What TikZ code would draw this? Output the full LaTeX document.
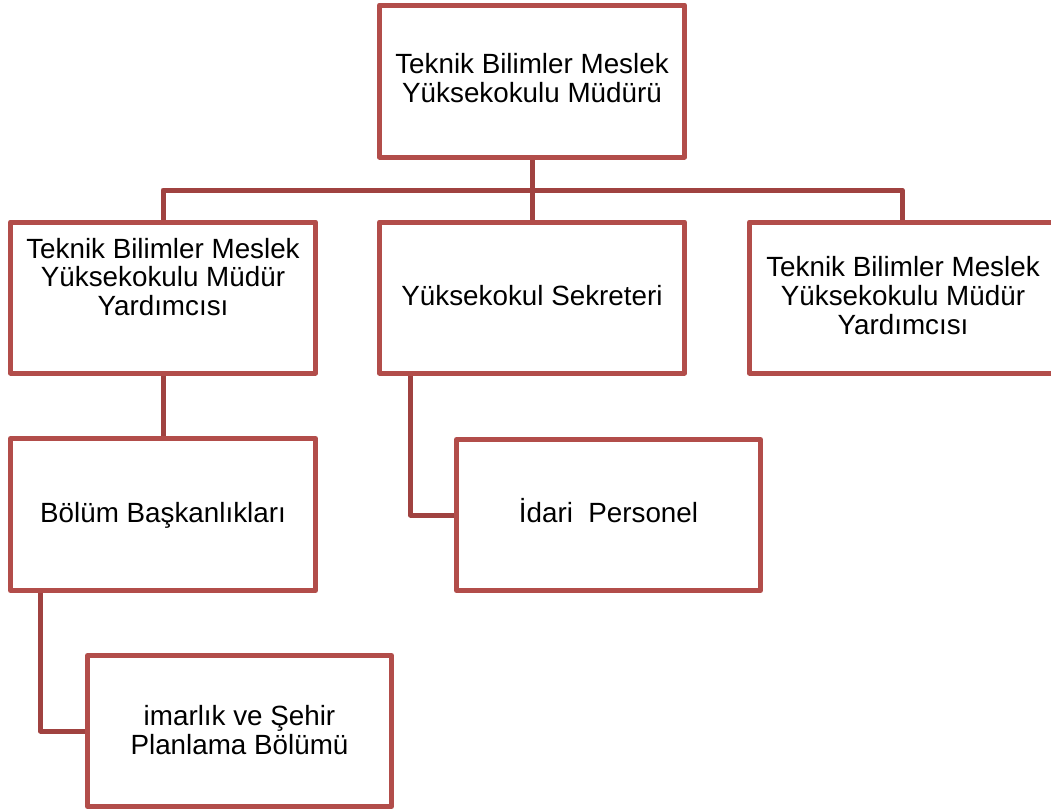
\documentclass[tikz,border=0pt]{standalone}
\usepackage{fontspec}
\setmainfont{Liberation Sans}
\definecolor{boxred}{RGB}{178,77,74}
\definecolor{linered}{RGB}{160,66,64}
\begin{document}
\begin{tikzpicture}[x=1pt,y=-1pt,
  orgbox/.style={draw=boxred,line width=5pt,line join=round,fill=white,rectangle,inner sep=0pt,minimum width=305pt,minimum height=152pt},
  conn/.style={draw=linered,line width=5pt,line join=round},
  lbl/.style={inner sep=0pt,align=center,anchor=base,font=\fontsize{27.8pt}{28.8pt}\selectfont}]
\fill[white] (0,0) rectangle (1051,809);
\useasboundingbox (0,0) rectangle (1051,809);
\begin{scope}
\clip (0,0) rectangle (1051,809);
% boxes (positions)
\path (532,81) coordinate (cT);
\path (163,297.5) coordinate (cL);
\path (532,297.5) coordinate (cM);
\path (902,297.5) coordinate (cR);
\path (163,514.5) coordinate (cB);
\path (608.5,515) coordinate (cI);
\path (239.5,731) coordinate (cP);
\coordinate (busL) at (163,190);
\coordinate (busR) at (902,190);
% connectors
\node[orgbox,draw=none,fill=none] (T0) at (cT) {};
\node[orgbox,draw=none,fill=none,minimum height=151pt] (L0) at (cL) {};
\node[orgbox,draw=none,fill=none,minimum height=151pt] (M0) at (cM) {};
\node[orgbox,draw=none,fill=none,minimum height=151pt] (R0) at (cR) {};
\node[orgbox,draw=none,fill=none,minimum width=305pt] (B0) at (cB) {};
\node[orgbox,draw=none,fill=none,minimum width=304pt,minimum height=151pt] (I0) at (cI) {};
\node[orgbox,draw=none,fill=none,minimum width=304pt,minimum height=151pt] (P0) at (cP) {};
\draw[conn] (T0.south) -- (M0.north);
\draw[conn] (L0.north) -- (busL) -- (busR) -- (R0.north);
\draw[conn] (L0.south) -- (B0.north);
\draw[conn] ([xshift=-121.5pt]M0.south) |- (I0.west);
\draw[conn] ([xshift=-122.5pt]B0.south) |- (P0.west);
% boxes drawn
\node[orgbox] (T) at (cT) {};
\node[orgbox,minimum height=151pt] (L) at (cL) {};
\node[orgbox,minimum height=151pt] (M) at (cM) {};
\node[orgbox,minimum height=151pt] (R) at (cR) {};
\node[orgbox] (B) at (cB) {};
\node[orgbox,minimum width=304pt,minimum height=151pt] (I) at (cI) {};
\node[orgbox,minimum width=304pt,minimum height=151pt] (P) at (cP) {};
% labels
\node[lbl] (tT) at (532,102.7) {Teknik Bilimler Meslek\\Yüksekokulu Müdürü};
\node[lbl] (tL) at (163,315.7) {Teknik Bilimler Meslek\\Yüksekokulu Müdür\\Yardımcısı};
\node[lbl] (tM) at (532,305.7) {Yüksekokul Sekreteri};
\node[lbl] (tR) at (903,334) {Teknik Bilimler Meslek\\Yüksekokulu Müdür\\Yardımcısı};
\node[lbl] (tB) at (163,522.7) {Bölüm Başkanlıkları};
\node[lbl] (tI) at (608.5,522.7) {İdari\ \ Personel};
\node[lbl] (tP) at (239.5,754) {imarlık ve Şehir\\Planlama Bölümü};
\end{scope}
\end{tikzpicture}
\end{document}
